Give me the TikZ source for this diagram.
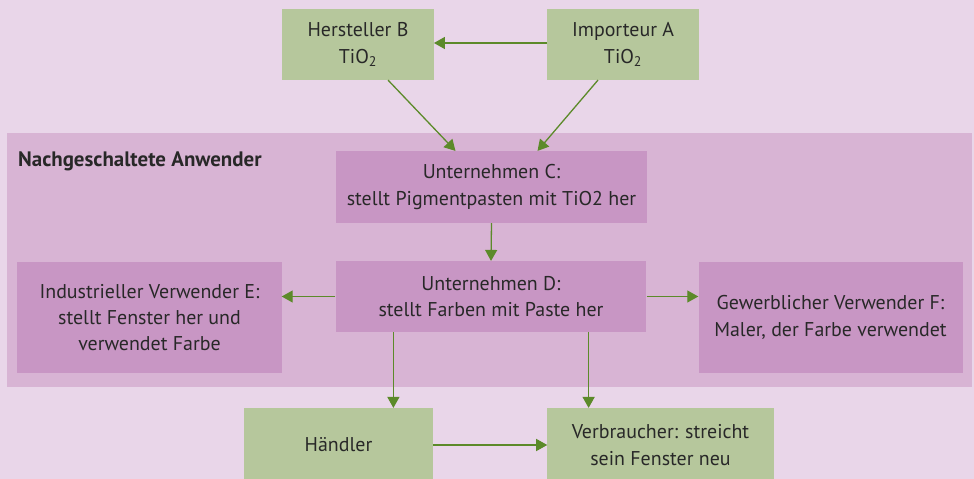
\documentclass[tikz,border=0pt]{standalone}
\usepackage{fontspec}
\setmainfont{PT Sans}
\usetikzlibrary{arrows.meta,calc}
\definecolor{bgpink}{RGB}{233,214,233}
\definecolor{bandpink}{RGB}{216,180,212}
\definecolor{boxpurple}{RGB}{200,150,196}
\definecolor{boxgreen}{RGB}{182,199,156}
\definecolor{arrgreen}{RGB}{92,138,42}
\definecolor{txtgray}{RGB}{40,40,40}
\begin{document}
\begin{tikzpicture}[x=1bp,y=-1bp,
  box/.style={rectangle, inner sep=0pt, align=center, text=txtgray,
    font=\fontsize{20}{26.5}\selectfont},
  greenbox/.style={box, fill=boxgreen},
  purplebox/.style={box, fill=boxpurple},
  flow/.style={draw=arrgreen, line width=1.3bp, -{Triangle[length=11bp,width=12bp]}}]
\fill[bgpink] (0,0) rectangle (974,479);
\useasboundingbox (0,0) rectangle (974,479);
\fill[bandpink] (7,133) rectangle (972,387);
\node[anchor=base west, font=\bfseries\fontsize{21}{24}\selectfont, text=txtgray, inner sep=0pt] (band) at (18,167) {Nachgeschaltete Anwender};
% Lieferanten
\node[greenbox, minimum width=152, minimum height=71] (B) at (358,44.5) {Hersteller B\\TiO\textsubscript{2}};
\node[greenbox, minimum width=152, minimum height=71] (A) at (623,44.5) {Importeur A\\TiO\textsubscript{2}};
% Anwender
\node[purplebox, minimum width=313, minimum height=72] (C) at (491.5,187) {Unternehmen C:\\stellt Pigmentpasten mit TiO2 her};
\node[purplebox, minimum width=312, minimum height=71] (D) at (491,296.5) {Unternehmen D:\\stellt Farben mit Paste her};
\node[purplebox, minimum width=265, minimum height=111] (E) at (149.5,317.5) {Industrieller Verwender E:\\stellt Fenster her und\\verwendet Farbe};
\node[purplebox, minimum width=265, minimum height=111] (F) at (830.5,317.5) {Gewerblicher Verwender F:\\Maler, der Farbe verwendet};
% Handel
\node[greenbox, minimum width=189, minimum height=74] (H) at (338.5,445) {H\"andler};
\node[greenbox, minimum width=227, minimum height=74] (V) at (660.5,445) {Verbraucher: streicht\\sein Fenster neu};
\draw[flow] (A.west|-0,43) -- (B.east|-0,43);
\draw[flow] ($(B.south)+(30,0)$) -- ($(C.north)+(-36,0)$);
\draw[flow] ($(A.south)+(-25,0)$) -- ($(C.north)+(46,0)$);
\draw[flow] (C.south) -- (D.north);
\draw[flow] (D.west) -- (D.west-|E.east);
\draw[flow] (D.east) -- (D.east-|F.west);
\coordinate (dh) at ($(D.south west)+(58,0)$);
\coordinate (dv) at ($(D.south east)+(-58,0)$);
\draw[flow] (dh) -- (dh|-H.north);
\draw[flow] (dv) -- (dv|-V.north);
\draw[flow] (H.east) -- (V.west);
\end{tikzpicture}
\end{document}
